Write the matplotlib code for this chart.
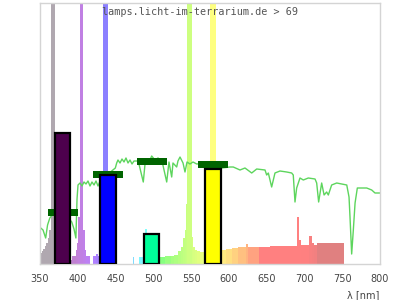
import numpy as np
import matplotlib
matplotlib.use('Agg')
import matplotlib.pyplot as plt

# lamp spectrum: left edge of each bin [nm] and height (axis units, 261 = top)
spec_wl = [350, 352, 354, 356, 358, 360, 362, 364, 369.5, 390, 393, 397, 398.5,
           400, 403, 407, 409, 411, 416, 420, 424, 427, 430, 433.5, 440, 450,
           452, 472.5, 474.5, 481, 489.5, 491.5, 508, 516, 524, 528, 532, 536,
           539.5, 541.5, 543, 544.5, 551, 552.5, 554.5, 558, 562, 568, 575, 583,
           590, 596, 604, 612, 622, 625, 640, 655, 689.5, 693, 695, 706.5,
           709.5, 712, 716]
spec_val = [11, 13, 15, 18, 21, 26, 34, 300, 20, 4, 8, 14, 21,
            47, 300, 34, 14, 8, 0, 8, 10, 8, 20, 300, 20, 7,
            0, 7, 0, 7, 35, 8, 7, 8, 8, 9, 13, 17,
            26, 34, 60, 300, 27, 17, 14, 13, 12, 12, 300, 12,
            14, 15, 16, 17, 20, 17, 17, 18, 47, 24, 19, 28,
            21, 19, 21]
spec_end = 752

# sunlight reference curve
sun_wl = [351, 354, 357.5, 360, 363, 366, 371, 380, 389, 392, 395, 397.5, 399,
          400.3, 403, 405.6, 408.2, 410.9, 413.5, 416.2, 418.8, 421.5, 424.1,
          426.8, 429, 440, 449.7, 451.5, 453.2, 455.9, 458.5, 461.2, 463.8,
          466.5, 469.1, 471.8, 474.4, 480, 486.7, 489, 495.6, 497.8, 502.2,
          506.2, 511.5, 517.7, 520.7, 524.3, 526, 530.9, 532.6, 535.3, 539.3,
          541.9, 544.6, 548.5, 552.5, 557.4, 570, 590.5, 601.5, 605.8, 614.7,
          621.3, 630.2, 636.8, 647.8, 650, 652.2, 656.6, 661, 667.6, 676.5,
          683.1, 685.2, 687.5, 689.7, 694.1, 698.5, 705.1, 714, 716.2, 718.8,
          722.8, 726, 729.4, 731.6, 736, 742.7, 756, 759, 760.3, 762.5, 764.7,
          767, 770, 782.4, 789, 793.4, 800]
sun_val = [36, 34, 26, 39, 46, 49, 50, 55, 45, 42, 35, 26, 65,
           79, 81, 78, 82, 80, 83, 78, 82, 79, 83,
           78, 82, 90, 96, 101, 104, 101, 105, 102, 106,
           101, 104, 100, 103, 103, 82, 100, 104, 108, 104,
           106, 103, 82, 102, 87, 101, 97, 103, 107, 101,
           92, 102, 100, 102, 100, 101, 96, 97, 97, 94,
           96, 91, 95, 94, 89, 91, 77, 91, 93, 92,
           91, 89, 62, 76, 86, 84, 86, 85, 81, 62,
           81, 69, 72, 69, 79, 81, 79, 67, 47, 10, 34,
           61, 76, 76, 74, 71, 71]

# weighted bars and sunlight markers
bar_center = [380, 440, 498, 579]
bar_val = [131, 89, 30, 95]
bar_colors = ['#4d004d', '#0000ff', '#00ff99', '#ffff00']
sun_mark = [52, 90, 103, 100]


def wl_color(wl):
    if wl < 380:
        r, g, b = 0.38, 0.32, 0.38
        return (0.5 + 0.5 * r, 0.5 + 0.5 * g, 0.5 + 0.5 * b)
    if wl < 440:
        r, g, b = -(wl - 440) / 60, 0.0, 1.0
    elif wl < 490:
        r, g, b = 0.0, (wl - 440) / 50, 1.0
    elif wl < 510:
        r, g, b = 0.0, 1.0, -(wl - 510) / 20
    elif wl < 580:
        r, g, b = (wl - 510) / 70, 1.0, 0.0
    elif wl < 645:
        r, g, b = 1.0, -(wl - 645) / 65, 0.0
    else:
        r, g, b = 1.0, 0.0, 0.0
    if wl < 420:
        f = 0.3 + 0.7 * (wl - 380) / 40
    elif wl > 700:
        f = 0.3 + 0.7 * (780 - wl) / 80
    else:
        f = 1.0
    rgb = [(c * f) ** 0.8 if c > 0 else 0.0 for c in (r, g, b)]
    return tuple(0.5 + 0.5 * c for c in rgb)


fig = plt.figure(figsize=(4, 3), dpi=100)
ax = fig.add_axes([0.1, 0.12, 0.85, 0.87])
ax.set_xlim(350, 800)
ax.set_ylim(0, 261)

edges = np.append(spec_wl, spec_end)
widths = np.diff(edges)
centers = np.array(spec_wl) + widths / 2
ax.bar(spec_wl, spec_val, width=widths, align='edge', linewidth=0,
       color=[wl_color(c) for c in centers], zorder=1)

ax.plot(sun_wl, sun_val, color='#5dd55d', linewidth=1, zorder=2)

mark = np.array(sun_mark)
ax.bar(bar_center, 7, bottom=mark - 3.5, width=40, color='#006400',
       linewidth=0, zorder=3)
ax.bar(bar_center, bar_val, width=20, color=bar_colors, edgecolor='black',
       linewidth=1.6, zorder=4)

for s in ax.spines.values():
    s.set_color('#d4d4d4')
    s.set_linewidth(1)
ax.set_yticks([])
ax.set_xticks(np.arange(350, 801, 50))
ax.tick_params(axis='x', length=0, pad=7, labelsize=7, labelcolor='#444444')

ax.text(0.47, 0.965, 'lamps.licht-im-terrarium.de > 69', transform=ax.transAxes,
        ha='center', va='center', family='DejaVu Sans Mono', fontsize=7.3,
        color='#555555', zorder=5)
fig.text(0.948, 0.016, 'λ [nm]', ha='right', va='center', fontsize=7,
         color='#444444')

fig.savefig('out.png', dpi=100)
